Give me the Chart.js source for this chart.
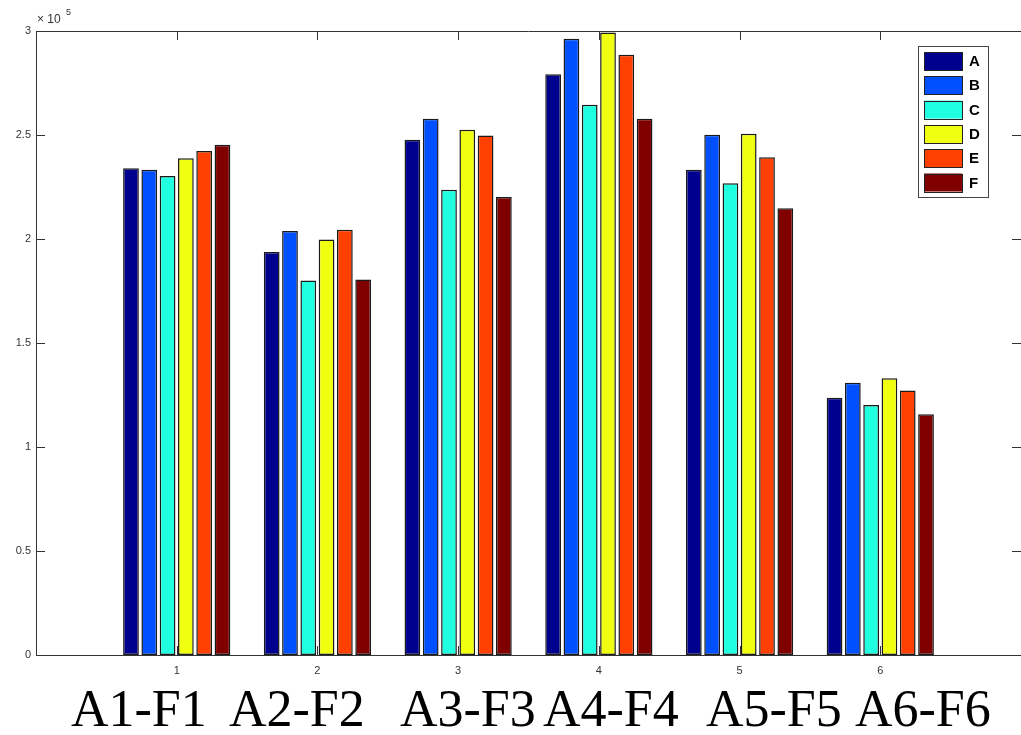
<!DOCTYPE html>
<html>
<head>
<meta charset="utf-8">
<script src="https://cdn.jsdelivr.net/npm/chart.js@4.4.0/dist/chart.umd.min.js"></script>
<style>
    html, body { margin: 0; padding: 0; background: #fff; overflow: hidden; }
    #barChart { display: block; }
</style>
</head>
<body>
<canvas id="barChart" width="1030" height="735"></canvas>
<script>
//#region Data
const groups = [1, 2, 3, 4, 5, 6]
const groupLabels = ["A1-F1", "A2-F2", "A3-F3", "A4-F4", "A5-F5", "A6-F6"]
const seriesNames = ["A", "B", "C", "D", "E", "F"]
const seriesA = [234000, 193800, 247700, 279200, 233300, 123700]
const seriesB = [233300, 203900, 257800, 296300, 250100, 130900]
const seriesC = [230300, 180000, 223700, 264600, 226800, 120200]
const seriesD = [238800, 199700, 252500, 299300, 250600, 133100]
const seriesE = [242300, 204500, 249700, 288600, 239300, 127200]
const seriesF = [245300, 180500, 220200, 257800, 214800, 115800]
const yTicks = [0, 0.5, 1, 1.5, 2, 2.5, 3]
const yExponent = 5
//#endregion

const seriesColors = ["#00008f", "#0050ff", "#20ffe0", "#f0ff10", "#ff4000", "#800000"]
// left edge of each big group caption, as placed in the original figure
const captionLeft = [71, 229, 400, 543, 706, 855]
const axisColor = "#333"

//#region Matlab-looking axes, legend and captions
const matlabDecor = {
    id: "matlabDecor",
    afterDraw: chart => {
        let ctx = chart.ctx
        let area = chart.chartArea
        let xs = chart.scales.x
        let ys = chart.scales.y
        let px = v => Math.round(v) + 0.5

        ctx.save()
        ctx.strokeStyle = axisColor
        ctx.lineWidth = 1
        ctx.beginPath()
        // box edges top and right
        ctx.moveTo(area.left, px(area.top))
        ctx.lineTo(area.right, px(area.top))
        ctx.moveTo(px(area.right), area.top)
        ctx.lineTo(px(area.right), area.bottom)
        // inward ticks
        groups.forEach(g => {
            let x = px(xs.getPixelForValue(g))
            ctx.moveTo(x, area.bottom)
            ctx.lineTo(x, area.bottom - 9)
            ctx.moveTo(x, area.top)
            ctx.lineTo(x, area.top + 9)
        })
        yTicks.forEach(t => {
            let y = px(ys.getPixelForValue(t * Math.pow(10, yExponent)))
            ctx.moveTo(area.left, y)
            ctx.lineTo(area.left + 9, y)
            ctx.moveTo(area.right, y)
            ctx.lineTo(area.right - 9, y)
        })
        ctx.stroke()

        // exponent label
        ctx.fillStyle = axisColor
        ctx.textBaseline = "alphabetic"
        ctx.textAlign = "left"
        ctx.font = "12px 'Liberation Sans', Arial, sans-serif"
        ctx.fillText("\u00d7 10", area.left + 1, area.top - 8)
        ctx.font = "9px 'Liberation Sans', Arial, sans-serif"
        ctx.fillText(String(yExponent), area.left + 30, area.top - 16)

        // legend box
        let lx = area.right - 103, ly = area.top + 15, lw = 70, lh = 151
        ctx.fillStyle = "#fff"
        ctx.fillRect(lx, ly, lw, lh)
        ctx.strokeStyle = "#444"
        ctx.strokeRect(px(lx), px(ly), lw, lh)
        chart.data.datasets.forEach((ds, i) => {
            let sy = ly + 6 + i * 24.3
            ctx.fillStyle = ds.backgroundColor
            ctx.fillRect(lx + 6, sy, 38, 18)
            ctx.strokeStyle = "#222"
            ctx.strokeRect(px(lx + 6), px(sy), 38, 18)
            ctx.fillStyle = "#000"
            ctx.font = "bold 15px 'Liberation Sans', Arial, sans-serif"
            ctx.textBaseline = "middle"
            ctx.fillText(ds.label, lx + 51, sy + 10)
        })

        // big group captions under the axis
        ctx.fillStyle = "#000"
        ctx.textBaseline = "alphabetic"
        ctx.font = "52px 'Liberation Serif', 'Times New Roman', serif"
        groupLabels.forEach((label, i) => {
            ctx.fillText(label, captionLeft[i], 726)
        })
        ctx.restore()
    }
}
//#endregion

//#region Chart
const seriesValues = [seriesA, seriesB, seriesC, seriesD, seriesE, seriesF]

CreateChart = canvasId => {
    new Chart(canvasId, {
        type: "bar",
        data: {
            datasets: seriesNames.map((name, i) => ({
                label: name,
                data: seriesValues[i].map((v, j) => ({ x: groups[j], y: v })),
                backgroundColor: seriesColors[i],
                borderColor: "#1a1a1a",
                borderWidth: 1.5,
                borderSkipped: false,
                categoryPercentage: 0.78,
                barPercentage: 0.86
            }))
        },
        options: {
            responsive: false,
            animation: false,
            devicePixelRatio: 1,
            layout: { padding: { top: 31, right: 7, left: 0, bottom: 0 } },
            plugins: {
                legend: { display: false },
                tooltip: { enabled: false }
            },
            scales: {
                x: {
                    type: "linear",
                    offset: false,
                    min: 0,
                    max: groups.length + 1,
                    grid: { display: false, drawTicks: false, offset: false },
                    border: { display: true, color: axisColor, width: 1 },
                    afterFit: scale => { scale.height = 80 },
                    ticks: {
                        stepSize: 1,
                        autoSkip: false,
                        maxRotation: 0,
                        padding: 9,
                        color: axisColor,
                        font: { family: "'Liberation Sans', Arial, sans-serif", size: 11 },
                        callback: v => groups.includes(v) ? String(v) : ""
                    }
                },
                y: {
                    min: 0,
                    max: yTicks[yTicks.length - 1] * Math.pow(10, yExponent),
                    grid: { display: false, drawTicks: false },
                    border: { display: true, color: axisColor, width: 1 },
                    afterFit: scale => { scale.width = 36 },
                    ticks: {
                        stepSize: 0.5 * Math.pow(10, yExponent),
                        padding: 5,
                        color: axisColor,
                        font: { family: "'Liberation Sans', Arial, sans-serif", size: 11 },
                        callback: v => String(v / Math.pow(10, yExponent))
                    }
                }
            }
        },
        plugins: [matlabDecor]
    })
}
//#endregion

window.onload = () => CreateChart("barChart")
</script>
</body>
</html>
